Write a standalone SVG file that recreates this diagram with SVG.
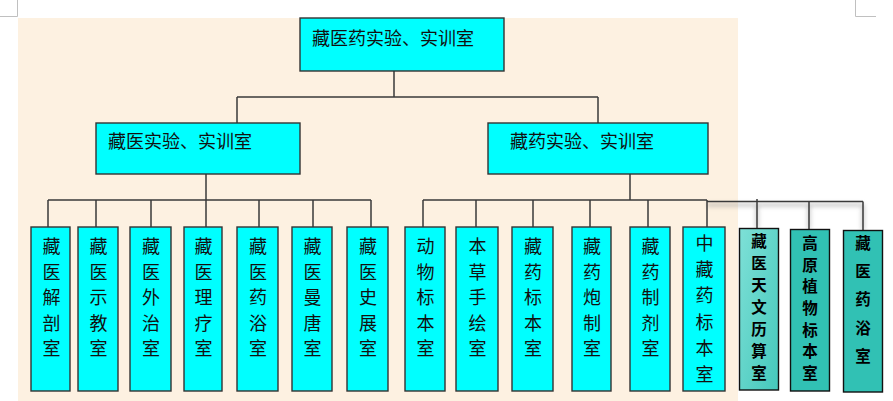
<svg xmlns="http://www.w3.org/2000/svg" width="893" height="401" viewBox="0 0 893 401">
<style>
.bx{fill:#00FFFF;stroke:#333;stroke-width:1.4}
.t{font-family:"Noto Sans CJK SC","Noto Sans",sans-serif;font-size:18px;fill:#111}
.v{text-anchor:middle}
.b{font-weight:bold;fill:#000;font-size:15.5px}
.c{stroke:#3a3a3a;stroke-width:1.5;fill:none}
.mk{stroke:#c0c0c0;stroke-width:1;fill:none}
</style>
<defs>
<linearGradient id="g7" x1="0" y1="0" x2="1" y2="1">
<stop offset="0" stop-color="#7ee0d7"/>
<stop offset="1" stop-color="#45c8bb"/>
</linearGradient>
<filter id="sh" x="-5%" y="-200%" width="110%" height="500%">
<feGaussianBlur stdDeviation="2"/>
</filter>
</defs>
<rect x="0" y="0" width="893" height="401" fill="#ffffff"/>
<rect x="18" y="18" width="720" height="383" fill="#fdf1e1"/>
<path class="mk" d="M17.5 0V16.5H0M855.5 0V16.5H876"/>

<g id="connectors">
<path d="M707 205H863M757 205V228M809 205V229M863 205V230" stroke="#888" stroke-width="3" opacity="0.5" fill="none" filter="url(#sh)"/>
<path class="c" d="M394 71V97M237 97H598M237 97V123M598 97V123"/>
<path class="c" d="M206 174V200M48 200H371M48 200V227M96 200V227M151 200V227M206 200V227M259 200V227M313 200V227M371 200V227"/>
<path class="c" d="M630 174V200M423 200H707M423 200V227M476 200V227M533 200V227M590 200V227M648 200V227M707 200V227"/>
<path class="c" d="M707 201.5H863M757 199V228M809 201.5V229M863 201.5V230"/>
</g>

<g id="root"><rect class="bx" x="300" y="18" width="204" height="53"/>
<text class="t" x="312" y="45">藏医药实验、实训室</text></g>

<g id="zangyi"><rect class="bx" x="96" y="123" width="204" height="51"/>
<text class="t" x="108" y="148">藏医实验、实训室</text></g>

<g id="zangyao"><rect class="bx" x="488" y="123" width="220" height="51"/>
<text class="t" x="510" y="148">藏药实验、实训室</text></g>

<g id="l1"><rect class="bx" x="31" y="227" width="39" height="164"/>
<text class="t v" x="51.5" y="253"><tspan x="51.5">藏</tspan><tspan x="51.5" dy="25.5">医</tspan><tspan x="51.5" dy="25.5">解</tspan><tspan x="51.5" dy="25.5">剖</tspan><tspan x="51.5" dy="25.5">室</tspan></text></g>
<g id="l2"><rect class="bx" x="78" y="227" width="40" height="164"/>
<text class="t v" x="98.5" y="253"><tspan x="98.5">藏</tspan><tspan x="98.5" dy="25.5">医</tspan><tspan x="98.5" dy="25.5">示</tspan><tspan x="98.5" dy="25.5">教</tspan><tspan x="98.5" dy="25.5">室</tspan></text></g>
<g id="l3"><rect class="bx" x="130" y="227" width="41" height="164"/>
<text class="t v" x="151" y="253"><tspan x="151">藏</tspan><tspan x="151" dy="25.5">医</tspan><tspan x="151" dy="25.5">外</tspan><tspan x="151" dy="25.5">治</tspan><tspan x="151" dy="25.5">室</tspan></text></g>
<g id="l4"><rect class="bx" x="184" y="227" width="38" height="164"/>
<text class="t v" x="203.5" y="253"><tspan x="203.5">藏</tspan><tspan x="203.5" dy="25.5">医</tspan><tspan x="203.5" dy="25.5">理</tspan><tspan x="203.5" dy="25.5">疗</tspan><tspan x="203.5" dy="25.5">室</tspan></text></g>
<g id="l5"><rect class="bx" x="237" y="227" width="41" height="164"/>
<text class="t v" x="258" y="253"><tspan x="258">藏</tspan><tspan x="258" dy="25.5">医</tspan><tspan x="258" dy="25.5">药</tspan><tspan x="258" dy="25.5">浴</tspan><tspan x="258" dy="25.5">室</tspan></text></g>
<g id="l6"><rect class="bx" x="292" y="227" width="40" height="164"/>
<text class="t v" x="312.5" y="253"><tspan x="312.5">藏</tspan><tspan x="312.5" dy="25.5">医</tspan><tspan x="312.5" dy="25.5">曼</tspan><tspan x="312.5" dy="25.5">唐</tspan><tspan x="312.5" dy="25.5">室</tspan></text></g>
<g id="l7"><rect class="bx" x="347" y="227" width="41" height="164"/>
<text class="t v" x="368" y="253"><tspan x="368">藏</tspan><tspan x="368" dy="25.5">医</tspan><tspan x="368" dy="25.5">史</tspan><tspan x="368" dy="25.5">展</tspan><tspan x="368" dy="25.5">室</tspan></text></g>

<g id="r1"><rect class="bx" x="405" y="227" width="40" height="164"/>
<text class="t v" x="425.5" y="253"><tspan x="425.5">动</tspan><tspan x="425.5" dy="25.5">物</tspan><tspan x="425.5" dy="25.5">标</tspan><tspan x="425.5" dy="25.5">本</tspan><tspan x="425.5" dy="25.5">室</tspan></text></g>
<g id="r2"><rect class="bx" x="456" y="227" width="42" height="164"/>
<text class="t v" x="477.5" y="253"><tspan x="477.5">本</tspan><tspan x="477.5" dy="25.5">草</tspan><tspan x="477.5" dy="25.5">手</tspan><tspan x="477.5" dy="25.5">绘</tspan><tspan x="477.5" dy="25.5">室</tspan></text></g>
<g id="r3"><rect class="bx" x="512" y="227" width="41" height="164"/>
<text class="t v" x="533" y="253"><tspan x="533">藏</tspan><tspan x="533" dy="25.5">药</tspan><tspan x="533" dy="25.5">标</tspan><tspan x="533" dy="25.5">本</tspan><tspan x="533" dy="25.5">室</tspan></text></g>
<g id="r4"><rect class="bx" x="572" y="227" width="39" height="164"/>
<text class="t v" x="592" y="253"><tspan x="592">藏</tspan><tspan x="592" dy="25.5">药</tspan><tspan x="592" dy="25.5">炮</tspan><tspan x="592" dy="25.5">制</tspan><tspan x="592" dy="25.5">室</tspan></text></g>
<g id="r5"><rect class="bx" x="630" y="227" width="40" height="164"/>
<text class="t v" x="650.5" y="253"><tspan x="650.5">藏</tspan><tspan x="650.5" dy="25.5">药</tspan><tspan x="650.5" dy="25.5">制</tspan><tspan x="650.5" dy="25.5">剂</tspan><tspan x="650.5" dy="25.5">室</tspan></text></g>
<g id="r6"><rect class="bx" x="683" y="227" width="42" height="164"/>
<text class="t v" x="704.5" y="250"><tspan x="704.5">中</tspan><tspan x="704.5" dy="26.2">藏</tspan><tspan x="704.5" dy="26.2">药</tspan><tspan x="704.5" dy="26.2">标</tspan><tspan x="704.5" dy="26.2">本</tspan><tspan x="704.5" dy="26.2">室</tspan></text></g>

<g id="r7"><rect x="739.5" y="228.5" width="39" height="161.5" fill="url(#g7)" stroke="#111" stroke-width="1.4"/>
<text class="t v b" x="759" y="247.2"><tspan x="759">藏</tspan><tspan x="759" dy="21.9">医</tspan><tspan x="759" dy="21.9">天</tspan><tspan x="759" dy="21.9">文</tspan><tspan x="759" dy="21.9">历</tspan><tspan x="759" dy="21.9">算</tspan><tspan x="759" dy="21.9">室</tspan></text></g>
<g id="r8"><rect x="790.5" y="229.5" width="39" height="161.5" fill="#31c1b4" stroke="#111" stroke-width="1.4"/>
<text class="t v b" x="810" y="248.8"><tspan x="810">高</tspan><tspan x="810" dy="21.7">原</tspan><tspan x="810" dy="21.7">植</tspan><tspan x="810" dy="21.7">物</tspan><tspan x="810" dy="21.7">标</tspan><tspan x="810" dy="21.7">本</tspan><tspan x="810" dy="21.7">室</tspan></text></g>
<g id="r9"><rect x="843.5" y="230.5" width="39" height="161.5" fill="#31c1b4" stroke="#111" stroke-width="1.4"/>
<text class="t v b" x="863" y="248.8"><tspan x="863">藏</tspan><tspan x="863" dy="28.3">医</tspan><tspan x="863" dy="28.3">药</tspan><tspan x="863" dy="28.3">浴</tspan><tspan x="863" dy="28.3">室</tspan></text></g>
</svg>
